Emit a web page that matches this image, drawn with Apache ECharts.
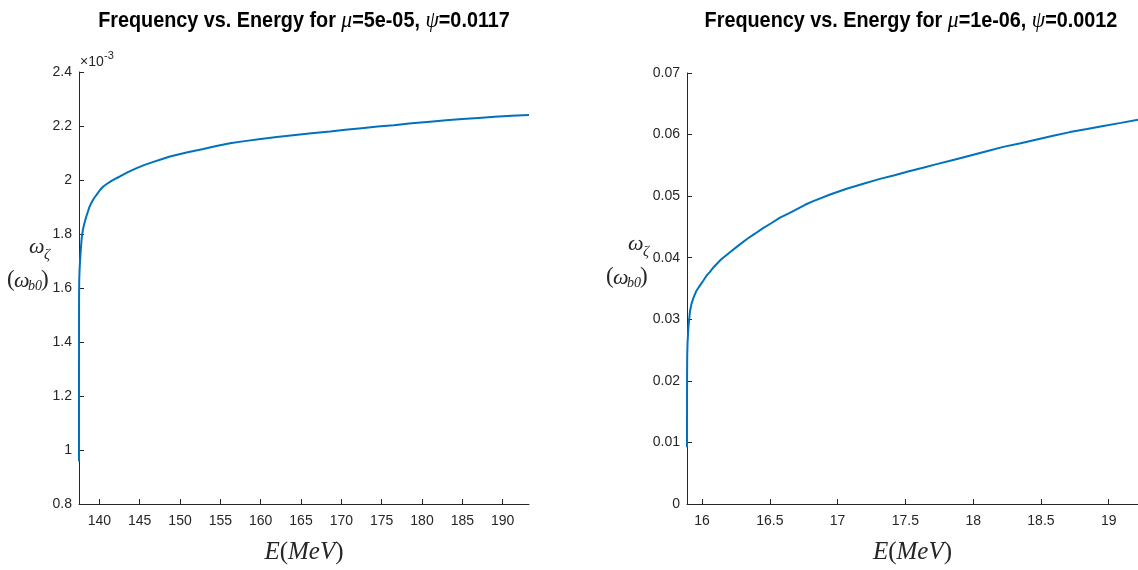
<!DOCTYPE html>
<html>
<head>
<meta charset="utf-8">
<title>Frequency vs. Energy</title>
<script src="https://cdn.jsdelivr.net/npm/echarts@6/dist/echarts.min.js"></script>
<style>
  html, body { margin: 0; padding: 0; background: #ffffff; }
  #chart { width: 1138px; height: 570px; }
</style>
</head>
<body>
<div id="chart"></div>
<script>
// Left panel: mu = 5e-05, psi = 0.0117 (frequency in units of 1e-3 omega_b0)
const energyLeft = [137.47, 137.4705, 137.472, 137.475, 137.48, 137.50, 137.53, 137.57, 137.63, 137.70,
  137.805, 137.95, 138.08, 138.21, 138.35, 138.50, 138.66, 138.83, 139.00, 139.20, 139.42, 139.665,
  140.05, 140.48, 141.0, 141.5, 142.0, 142.54, 143.6, 144.62, 145.6, 146.7, 147.7, 148.75, 150.8,
  152.88, 154.5, 156.19, 158.0, 160.0, 162.0, 164.0, 166.3, 168.6, 170.5, 172.5, 174.5, 176.5,
  178.7, 181.0, 183.0, 185.0, 187.0, 189.0, 191.1, 193.27];
const omegaLeftMilli = [0.957, 1.25, 1.45, 1.52, 1.57, 1.63, 1.66, 1.685, 1.715, 1.745,
  1.785, 1.815, 1.832, 1.847, 1.862, 1.876, 1.891, 1.905, 1.915, 1.926, 1.936, 1.946,
  1.962, 1.976, 1.987, 1.997, 2.005, 2.013, 2.030, 2.044, 2.056, 2.067, 2.077, 2.087, 2.102,
  2.115, 2.126, 2.136, 2.144, 2.152, 2.159, 2.166, 2.173, 2.180, 2.186, 2.192, 2.198, 2.203,
  2.210, 2.216, 2.221, 2.226, 2.230, 2.234, 2.238, 2.241];
const xTicksLeft = [140, 145, 150, 155, 160, 165, 170, 175, 180, 185, 190];

// Right panel: mu = 1e-06, psi = 0.0012
const energyRight = [15.889, 15.8891, 15.8895, 15.8905, 15.893, 15.899, 15.905, 15.911, 15.922, 15.935,
  15.958, 15.985, 16.01, 16.034, 16.058, 16.083, 16.14, 16.206, 16.27, 16.329, 16.39, 16.45,
  16.51, 16.575, 16.64, 16.70, 16.76, 16.821, 16.95, 17.067, 17.19, 17.313, 17.42, 17.52, 17.63,
  17.731, 17.86, 17.98, 18.10, 18.222, 18.35, 18.47, 18.59, 18.714, 18.84, 18.96, 19.09, 19.216];
const omegaRight = [0.0092, 0.016, 0.021, 0.024, 0.0262, 0.0286, 0.0300, 0.0313, 0.0325, 0.0334,
  0.0346, 0.0355, 0.0363, 0.0371, 0.0377, 0.0384, 0.0397, 0.0409, 0.0420, 0.0430, 0.0439, 0.0448,
  0.0456, 0.0465, 0.0472, 0.0479, 0.0486, 0.0492, 0.0503, 0.0512, 0.0520, 0.0528, 0.0534, 0.0540, 0.0546,
  0.0552, 0.0559, 0.0566, 0.0573, 0.0580, 0.0586, 0.0592, 0.0598, 0.0604, 0.0609, 0.0614, 0.0619, 0.0624];
const xTicksRight = [16, 16.5, 17, 17.5, 18, 18.5, 19];

const titleLeft = ['Frequency vs. Energy for ', 'μ', '=5e-05, ', 'ψ', '=0.0117'];
const titleRight = ['Frequency vs. Energy for ', 'μ', '=1e-06, ', 'ψ', '=0.0012'];

const INK = '#262626';
const LINE = '#0072BD';
const SANS = '"Liberation Sans", Arial, Helvetica, sans-serif';
const SERIF = '"Liberation Serif", "Times New Roman", serif';

const pairs = (xs, ys, k) => xs.map((x, i) => [x, ys[i] * k]);

const titleRich = {
  b: { fontFamily: SANS, fontWeight: 'bold', fontSize: 22, fill: '#000' },
  g: { fontFamily: SERIF, fontStyle: 'italic', fontSize: 24, fill: '#000' }
};
const titleText = parts => parts.map((p, i) => (i % 2 ? '{g|' : '{b|') + p + '}').join('');

const xName = '{i|E}{r|(}{i|MeV}{r|)}';
const xNameStyle = {
  rich: {
    i: { fontFamily: SERIF, fontStyle: 'italic', fontSize: 25, color: INK },
    r: { fontFamily: SERIF, fontSize: 25, color: INK }
  }
};

function xAxisCfg(gridIndex, min, max, ticks) {
  return {
    type: 'value', gridIndex, min, max,
    name: xName, nameLocation: 'middle', nameGap: 36, nameTextStyle: xNameStyle,
    axisLine: { lineStyle: { color: INK, width: 1 } },
    axisTick: { inside: true, length: 5, lineStyle: { color: INK }, customValues: ticks },
    axisLabel: { customValues: ticks, color: INK, fontFamily: SANS, fontSize: 14, margin: 10 },
    splitLine: { show: false }
  };
}

function yAxisCfg(gridIndex, min, max, interval, fmt) {
  return {
    type: 'value', gridIndex, min, max, interval,
    axisLine: { show: true, lineStyle: { color: INK, width: 1 } },
    axisTick: { show: true, inside: true, length: 5, lineStyle: { color: INK } },
    axisLabel: { color: INK, fontFamily: SANS, fontSize: 14, margin: 7, formatter: fmt },
    splitLine: { show: false }
  };
}

// Condensed bold heading centred above a panel
function heading(cx, parts) {
  return {
    type: 'text', x: cx, y: 21, scaleX: 0.9,
    style: { text: titleText(parts), rich: titleRich, align: 'center', verticalAlign: 'middle' }
  };
}

// Stacked omega_zeta over (omega_b0) label, drawn as separate glyph runs
function yLabel(x0, y0) {
  const t = (x, y, text, size, extra) => ({
    type: 'text', x: x0 + x, y: y0 + y,
    style: Object.assign({ text, fill: INK, fontFamily: SERIF, fontSize: size, align: 'left', verticalAlign: 'middle' }, extra || {})
  });
  const it = { fontStyle: 'italic' };
  return [
    t(22, 0, 'ω', 22, it),
    t(37, 8, 'ζ', 15, it),
    t(0, 33, '(', 23),
    t(7, 34, 'ω', 22, it),
    t(21, 39, 'b0', 14, it),
    t(34, 33, ')', 23)
  ];
}

const chart = echarts.init(document.getElementById('chart'), null, { renderer: 'canvas' });

chart.setOption({
  backgroundColor: '#ffffff',
  animation: false,
  grid: [
    { left: 79, top: 72, width: 450, height: 437 },
    { left: 687, top: 73, width: 451, height: 436 }
  ],
  xAxis: [
    xAxisCfg(0, 137.47, 193.27, xTicksLeft),
    xAxisCfg(1, 15.889, 19.216, xTicksRight)
  ],
  yAxis: [
    yAxisCfg(0, 0.0008, 0.0024, 0.0002, v => String(+(v * 1000).toFixed(2))),
    yAxisCfg(1, 0, 0.07, 0.01, v => String(+v.toFixed(3)))
  ],
  series: [
    {
      type: 'line', xAxisIndex: 0, yAxisIndex: 0,
      data: pairs(energyLeft, omegaLeftMilli, 1e-3),
      showSymbol: false, smooth: false,
      lineStyle: { color: LINE, width: 2 }
    },
    {
      type: 'line', xAxisIndex: 1, yAxisIndex: 1,
      data: pairs(energyRight, omegaRight, 1),
      showSymbol: false, smooth: false,
      lineStyle: { color: LINE, width: 2 }
    }
  ],
  graphic: [
    heading(304, titleLeft),
    heading(911, titleRight),
    // exponent marker for the left y axis
    { type: 'text', x: 80, y: 62, style: { text: '×10', fill: INK, fontFamily: SANS, fontSize: 14, verticalAlign: 'middle' } },
    { type: 'text', x: 104, y: 56, style: { text: '-3', fill: INK, fontFamily: SANS, fontSize: 11, verticalAlign: 'middle' } },
    ...yLabel(7, 247),
    ...yLabel(606, 244)
  ]
});
</script>
</body>
</html>
